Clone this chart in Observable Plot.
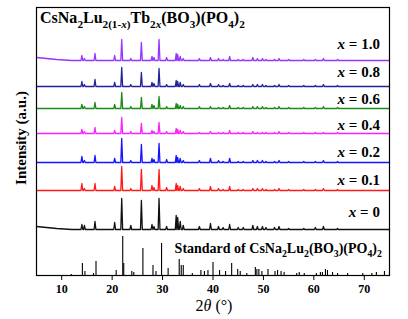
<!DOCTYPE html>
<html><head><meta charset="utf-8">
<script src="https://cdn.jsdelivr.net/npm/d3@7"></script>
<script src="https://cdn.jsdelivr.net/npm/@observablehq/plot@0.6"></script>
<style>body{margin:0;background:#fff} svg{display:block}</style>
</head><body><div id="chart"></div>
<script>
// Peak positions (2θ, degrees) of the measured patterns
const peakPos = [14.0,14.5,16.6,20.5,21.9,23.7,25.8,27.9,28.3,29.3,30.8,32.7,33.0,33.5,34.1,37.3,39.5,41.1,42.0,43.3,45.0,46.0,47.9,48.8,49.8,50.5,52.2,53.1,55.0,58.0,60.3,61.9,64.7];
// Peak intensities (a.u.) for each sample
const h10 = [5,2,7,5,21,2,18,4,3,21,3,7,6,4,2,2,3,2,1,4,1,1,3,2,2,1,1,2,1,1,1,2,1];
const h08 = [5,2,7,4,19,2,14,4,3,18,2,6,5,4,2,2,3,2,1,3,1,1,2,2,2,1,1,2,1,1,1,2,1];
const h06 = [4,2,6,4,16,2,11,4,3,12,2,5,4,3,2,2,2,1,1,3,1,1,2,2,2,1,1,2,1,1,1,2,1];
const h04 = [4,2,6,3,16,2,10,3,2,11,2,5,4,3,2,1,2,1,1,3,1,1,2,1,1,1,1,2,1,1,1,1,1];
const h02 = [6,2,7,4,24,2,18,4,3,19,3,7,5,4,2,2,4,2,1,4,1,1,2,2,2,1,1,2,1,1,1,2,1];
const h01 = [7,2,7,4,24,2,21,5,3,21,3,7,5,4,2,2,4,2,1,4,1,1,2,2,2,1,1,2,1,1,1,2,1];
const h00 = [5,4,8,7,31,4,29,5,3,31,3,14,12,8,4,3,6,3,2,5,2,2,4,3,3,2,2,3,1,1,2,3,1];
// Low-angle background
const bgPos = [5,7,9,12];
const bg10 = [3,2,1,0];
const bgFlat = [0,0,0,0];
const bg00 = [3,2,1,0];
// Series
const seriesNames = ["1.0","0.8","0.6","0.4","0.2","0.1","0"];
const seriesOffset = [215,189,167,142,113,85,46];
const seriesHeights = [h10,h08,h06,h04,h02,h01,h00];
const seriesBg = [bg10,bgFlat,bgFlat,bgFlat,bgFlat,bgFlat,bg00];
const seriesColor = ["#9933ff","#232399","#1a8a1a","#ff20ff","#1414ff","#ff1a1a","#111111"];
// Standard pattern (stick lines)
const stdPos = [11.9,14.1,14.6,16.3,16.8,20.8,22.1,22.3,23.9,24.3,26.1,28.1,28.7,29.8,31.1,33.3,33.7,34.1,35.9,37.6,38.3,39.0,40.0,41.3,42.5,43.7,44.9,45.4,46.7,48.4,48.7,49.1,49.7,50.9,52.3,52.8,53.5,54.1,56.6,57.1,58.1,60.5,61.3,61.7,62.3,62.7,63.7,64.7,66.7,69.7,71.5,72.4,74.0];
const stdH = [1,12,4,2,14,5,39,12,4,3,27,10,4,32,7,16,10,10,2,5,4,5,13,5,4,12,6,4,2,8,6,6,4,6,4,5,4,3,2,3,2,2,3,3,6,5,3,2,2,2,2,3,4];
const xTicks = [10,20,30,40,50,60,70];

const w = 0.18;
const lineRows = seriesNames.map((s, i) => {
  const pts = [];
  bgPos.forEach((p, j) => pts.push([p, seriesBg[i][j]]));
  peakPos.forEach((p, j) => { pts.push([p - w, 0], [p, seriesHeights[i][j]], [p + w, 0]); });
  pts.push([75, 0]);
  pts.sort((a, b) => a[0] - b[0]);
  return pts.map(([x, y]) => ({series: s, x, y: y + seriesOffset[i]}));
});
const stdRows = stdPos.map((p, i) => ({x: p, h: stdH[i]}));

const chart = Plot.plot({
  width: 408, height: 319,
  marginLeft: 36, marginRight: 19, marginTop: 7, marginBottom: 44,
  style: {fontFamily: "'Liberation Serif','Times New Roman',serif", background: "#fff", color: "#000"},
  x: {domain: [5, 75]},
  y: {domain: [0, 268], axis: null},
  marks: [
    Plot.ruleX(stdRows, {x: "x", y1: 0, y2: "h", stroke: "#000", strokeWidth: 1.1}),
    ...lineRows.map((rows, i) => Plot.line(rows, {x: "x", y: "y", stroke: seriesColor[i], strokeWidth: 1.3})),
    Plot.axisX({ticks: xTicks, tickSize: 5, tickPadding: 4, fontSize: 12, fontWeight: "bold", label: null, tickFormat: d => String(d)}),
    Plot.frame({stroke: "#000", strokeWidth: 1.2})
  ]
});
document.getElementById("chart").appendChild(chart);

const xs = chart.scale("x"), ys = chart.scale("y");
const svg = d3.select(chart);
const g = svg.append("g").attr("font-family", "'Liberation Serif','Times New Roman',serif").attr("fill", "#000");

function rich(x, y, segs, size, anchor) {
  const t = g.append("text").attr("x", x).attr("y", y).attr("font-size", size)
    .attr("font-weight", "bold").attr("text-anchor", anchor);
  let shift = 0;
  segs.forEach(s => {
    const target = s.sub ? size * 0.3 : 0;
    const ts = t.append("tspan").text(s.t).attr("dy", target - shift);
    shift = target;
    if (s.sub) ts.attr("font-size", size * 0.7);
    if (s.it) ts.attr("font-style", "italic");
  });
  return t;
}

// Title
rich(xs.apply(5.8), 23, [
  {t: "CsNa"}, {t: "2", sub: 1}, {t: "Lu"}, {t: "2(1-", sub: 1}, {t: "x", sub: 1, it: 1}, {t: ")", sub: 1},
  {t: "Tb"}, {t: "2", sub: 1}, {t: "x", sub: 1, it: 1}, {t: "(BO"}, {t: "3", sub: 1}, {t: ")(PO"}, {t: "4", sub: 1}, {t: ")"}, {t: "2", sub: 1}
], 16, "start");

// Standard label
rich(xs.apply(73.6), ys.apply(0) - 22, [
  {t: "Standard of CsNa"}, {t: "2", sub: 1}, {t: "Lu"}, {t: "2", sub: 1}, {t: "(BO"}, {t: "3", sub: 1},
  {t: ")(PO"}, {t: "4", sub: 1}, {t: ")"}, {t: "2", sub: 1}
], 14, "end");

// Series labels
const labelLift = [16, 14, 9, 8, 10, 10, 17];
seriesNames.forEach((s, i) => {
  rich(xs.apply(73.2), ys.apply(seriesOffset[i]) - labelLift[i] + 5, [{t: "x", it: 1}, {t: " = " + s}], 15, "end");
});

// Axis titles
g.append("text").attr("transform", "translate(26,138) rotate(-90)").attr("text-anchor", "middle")
  .attr("font-size", 15).attr("font-weight", "bold").text("Intensity (a.u.)");
const xl = g.append("text").attr("x", 214).attr("y", 311).attr("text-anchor", "middle").attr("font-size", 16);
xl.append("tspan").text("2");
xl.append("tspan").attr("font-style", "italic").text("θ");
xl.append("tspan").text(" (°)");
</script></body></html>
